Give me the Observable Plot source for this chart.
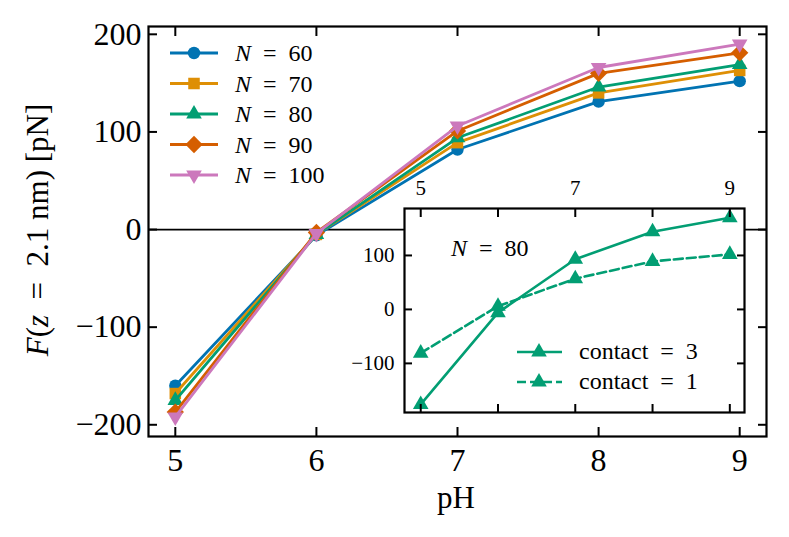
<!DOCTYPE html>
<html><head><meta charset="utf-8">
<script src="https://cdn.jsdelivr.net/npm/d3@7"></script>
<script src="https://cdn.jsdelivr.net/npm/@observablehq/plot@0.6"></script>
<style>
body{margin:0;background:#fff;}
#wrap{position:relative;width:789px;height:537px;overflow:hidden;}
#wrap svg{position:absolute;}
</style></head><body><div id="wrap"></div>
<script>
// ---- data ----
const pH = [5, 6, 7, 8, 9];
const chainN = [60, 70, 80, 90, 100];
const F_N60  = [-160, -6,  82, 131, 152];
const F_N70  = [-168, -5,  89, 140, 163];
const F_N80  = [-175, -5,  94, 146, 169];
const F_N90  = [-187, -3, 101, 160, 181];
const F_N100 = [-192, -4, 106, 166, 190];
const F_contact3 = [-176, -6, 93, 144, 170];
const F_contact1 = [-81, 6, 57, 89, 102];
const contactLabels = ["contact\u2002=\u20023", "contact\u2002=\u20021"];
const xTicks = [5, 6, 7, 8, 9];
const yTicks = [-200, -100, 0, 100, 200];
const insetXLabels = [5, 7, 9];
const insetYTicks = [-100, 0, 100];

const colors = ["#0173B2", "#DE8F05", "#029E73", "#D55E00", "#CC78BC"];
const triangleDown = {
  draw(context, size) {
    const y = -Math.sqrt(size / (Math.sqrt(3) * 3));
    context.moveTo(0, -y * 2);
    context.lineTo(-Math.sqrt(3) * y, y);
    context.lineTo(Math.sqrt(3) * y, y);
    context.closePath();
  }
};
const symbols = ["circle", "square", "triangle", "diamond2", triangleDown];
const symbolR = [6.2, 6.5, 5.8, 7.8, 5.8];
const seriesF = [F_N60, F_N70, F_N80, F_N90, F_N100];

const series = chainN.map((n, i) => pH.map((x, j) => ({pH: x, F: seriesF[i][j], N: n})));
const inset3 = pH.map((x, j) => ({pH: x, F: F_contact3[j]}));
const inset1 = pH.map((x, j) => ({pH: x, F: F_contact1[j]}));

const FONT = "Liberation Serif, DejaVu Serif, serif";
const fmt = d3.format("d");
const wrap = document.getElementById("wrap");

// ---- main chart ----
const seriesMarks = [];
series.forEach((d, i) => {
  seriesMarks.push(Plot.line(d, {x: "pH", y: "F", stroke: colors[i], strokeWidth: 2.8}));
  seriesMarks.push(Plot.dot(d, {x: "pH", y: "F", fill: colors[i], stroke: "none", symbol: symbols[i], r: symbolR[i]}));
});

const main = Plot.plot({
  width: 789, height: 537,
  marginLeft: 148, marginRight: 23, marginTop: 26, marginBottom: 101,
  x: {domain: [4.81, 9.19], label: null},
  y: {domain: [-212, 208], label: null},
  style: {fontFamily: FONT, fontSize: "32px", background: "transparent", color: "black"},
  marks: [
    Plot.ruleY([0], {stroke: "black", strokeWidth: 1.8}),
    ...seriesMarks,
    Plot.axisX(xTicks, {anchor: "bottom", tickSize: -9, tickPadding: 21, strokeWidth: 2, label: null, tickFormat: fmt, fontSize: 32}),
    Plot.axisX(xTicks, {anchor: "top", tickSize: -9, tickFormat: () => "", strokeWidth: 2, label: null}),
    Plot.axisY(yTicks, {anchor: "left", tickSize: -9, tickPadding: 16, strokeWidth: 2, label: null, tickFormat: fmt, fontSize: 32}),
    Plot.axisY(yTicks, {anchor: "right", tickSize: -9, tickFormat: () => "", strokeWidth: 2, label: null}),
    Plot.frame({stroke: "black", strokeWidth: 2.2})
  ]
});
main.style.left = "0px"; main.style.top = "0px";
wrap.appendChild(main);

const ms = d3.select(main);
// axis labels
ms.append("text").attr("x", 456).attr("y", 508).attr("text-anchor", "middle")
  .attr("font-family", FONT).attr("font-size", 31).attr("fill", "black").text("pH");
const yl = ms.append("text").attr("transform", "translate(48,230) rotate(-90)").attr("text-anchor", "middle")
  .attr("font-family", FONT).attr("font-size", 31).attr("fill", "black");
yl.append("tspan").attr("font-style", "italic").text("F");
yl.append("tspan").text("(");
yl.append("tspan").attr("font-style", "italic").text("z");
yl.append("tspan").text("\u2002=\u20022.1 nm) [pN]");

// legend (main)
const lg = ms.append("g").attr("text-anchor", "start");
chainN.forEach((n, i) => {
  const y = 53 + i * 30.5;
  lg.append("line").attr("x1", 170).attr("x2", 218).attr("y1", y).attr("y2", y)
    .attr("stroke", colors[i]).attr("stroke-width", 2.8);
  const sym = typeof symbols[i] === "string"
    ? {circle: d3.symbolCircle, square: d3.symbolSquare, triangle: d3.symbolTriangle, diamond2: d3.symbolDiamond2}[symbols[i]]
    : symbols[i];
  lg.append("path").attr("transform", `translate(194,${y})`)
    .attr("d", d3.symbol(sym, Math.PI * symbolR[i] * symbolR[i])()).attr("fill", colors[i]);
  const t = lg.append("text").attr("x", 235).attr("y", y + 8).attr("text-anchor", "start")
    .attr("font-family", FONT).attr("font-size", 24).attr("fill", "black");
  t.append("tspan").attr("font-style", "italic").text("N");
  t.append("tspan").text(`\u2002=\u2002${n}`);
});

// ---- inset ----
const insetLeft = 330, insetTop = 170;
const inset = Plot.plot({
  width: 434, height: 250,
  marginLeft: 74, marginRight: 20, marginTop: 38, marginBottom: 8,
  x: {domain: [4.79, 9.19], label: null},
  y: {domain: [-191, 187], label: null},
  style: {fontFamily: FONT, fontSize: "21px", background: "transparent", color: "black"},
  marks: [
    Plot.frame({fill: "white", stroke: "none"}),
    Plot.line(inset3, {x: "pH", y: "F", stroke: colors[2], strokeWidth: 2.6}),
    Plot.dot(inset3, {x: "pH", y: "F", fill: colors[2], symbol: "triangle", r: 5.8}),
    Plot.line(inset1, {x: "pH", y: "F", stroke: colors[2], strokeWidth: 2.6, strokeDasharray: "9,4"}),
    Plot.dot(inset1, {x: "pH", y: "F", fill: colors[2], symbol: "triangle", r: 5.8}),
    Plot.axisX(xTicks, {anchor: "bottom", tickSize: -8, tickFormat: () => "", strokeWidth: 2, label: null}),
    Plot.axisX(xTicks, {anchor: "top", tickSize: -8, tickFormat: () => "", strokeWidth: 2, label: null}),
    Plot.axisX(insetXLabels, {anchor: "top", tickSize: 0, tickPadding: 14, label: null, tickFormat: fmt, fontSize: 21}),
    Plot.axisY(insetYTicks, {anchor: "left", tickSize: -8, tickPadding: 18, strokeWidth: 2, label: null, tickFormat: fmt, fontSize: 21}),
    Plot.axisY(insetYTicks, {anchor: "right", tickSize: -8, tickFormat: () => "", strokeWidth: 2, label: null}),
    Plot.frame({stroke: "black", strokeWidth: 2.2})
  ]
});
inset.style.left = insetLeft + "px"; inset.style.top = insetTop + "px";
wrap.appendChild(inset);

const is = d3.select(inset);
const nt = is.append("text").attr("x", 451 - insetLeft).attr("y", 256 - insetTop).attr("text-anchor", "start")
  .attr("font-family", FONT).attr("font-size", 24).attr("fill", "black");
nt.append("tspan").attr("font-style", "italic").text("N");
nt.append("tspan").text("\u2002=\u200280");

contactLabels.forEach((lab, i) => {
  const y = (i === 0 ? 352 : 382) - insetTop;
  is.append("line").attr("x1", 517 - insetLeft).attr("x2", 562 - insetLeft).attr("y1", y).attr("y2", y)
    .attr("stroke", colors[2]).attr("stroke-width", 2.6).attr("stroke-dasharray", i === 0 ? null : "9,4");
  is.append("path").attr("transform", `translate(${539 - insetLeft},${y})`)
    .attr("d", d3.symbol(d3.symbolTriangle, Math.PI * 5.8 * 5.8)()).attr("fill", colors[2]);
  is.append("text").attr("x", 579 - insetLeft).attr("y", y + 7).attr("text-anchor", "start")
    .attr("font-family", FONT).attr("font-size", 24).attr("fill", "black").text(lab);
});
</script></body></html>
